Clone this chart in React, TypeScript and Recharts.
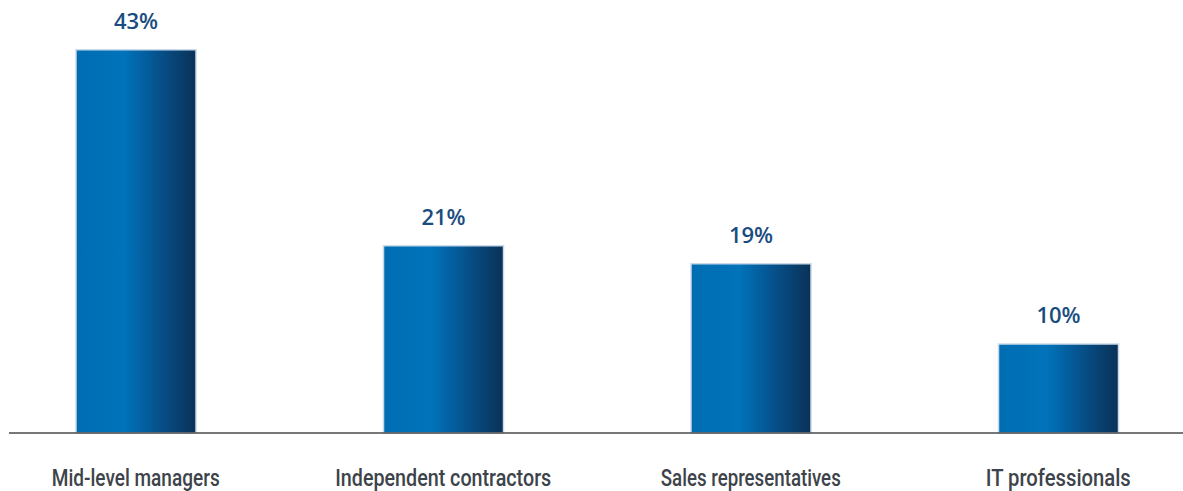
import React from 'react';
import { BarChart, Bar, XAxis, YAxis, LabelList } from 'recharts';

// 數據
const categories = [
  'Mid-level managers',
  'Independent contractors',
  'Sales representatives',
  'IT professionals',
];
const shares = [43, 21, 19, 10];
// 參考圖中的標籤寬度（窄體字型）
const labelWidths = [168, 216, 180, 145];

const data = categories.map((name, i) => ({ name, value: shares[i] }));

interface TickProps {
  x?: number;
  y?: number;
  index?: number;
  payload?: { value: string };
}

const CategoryTick = ({ x = 0, y = 0, index = 0, payload }: TickProps) => (
  <text
    x={x}
    y={y + 53}
    textAnchor="middle"
    fill="#3d434a"
    fontSize={23}
    fontFamily="Roboto, sans-serif"
    fontWeight={500}
    textLength={labelWidths[index]}
    lengthAdjust="spacingAndGlyphs"
  >
    {payload?.value}
  </text>
);

interface LabelProps {
  x?: number;
  y?: number;
  width?: number;
  value?: number;
}

const PercentLabel = ({ x = 0, y = 0, width = 0, value }: LabelProps) => (
  <text
    x={Number(x) + Number(width) / 2}
    y={Number(y) - 21}
    textAnchor="middle"
    fill="#1a4d7f"
    fontSize={22}
    fontFamily="'Open Sans', sans-serif"
    fontWeight={600}
  >
    {value}%
  </text>
);

const App: React.FC = () => {
  return (
    <div
      style={{
        position: 'fixed',
        top: 0,
        left: 0,
        width: 1183,
        height: 491,
        background: '#fff',
      }}
    >
      <BarChart
        width={1183}
        height={491}
        data={data}
        margin={{ top: 32, right: 0, left: 9, bottom: 0 }}
        style={{ overflow: 'visible' }}
      >
        <defs>
          <linearGradient id="barFill" x1="0" y1="0" x2="1" y2="0">
            <stop offset="0%" stopColor="#006db2" />
            <stop offset="40%" stopColor="#0073ba" />
            <stop offset="70%" stopColor="#06508a" />
            <stop offset="100%" stopColor="#0a3156" />
          </linearGradient>
        </defs>
        <XAxis
          dataKey="name"
          height={58}
          padding={{ left: -27, right: -29 }}
          axisLine={{ stroke: '#4a4a4a', strokeWidth: 1.5 }}
          tickLine={false}
          tickSize={0}
          tickMargin={0}
          interval={0}
          tick={<CategoryTick />}
        />
        <YAxis hide domain={[0, 45]} />
        <Bar
          dataKey="value"
          barSize={120}
          fill="url(#barFill)"
          stroke="#c9d9ea"
          strokeWidth={1.5}
          isAnimationActive={false}
        >
          <LabelList dataKey="value" content={<PercentLabel />} />
        </Bar>
      </BarChart>
    </div>
  );
};

export default App;
